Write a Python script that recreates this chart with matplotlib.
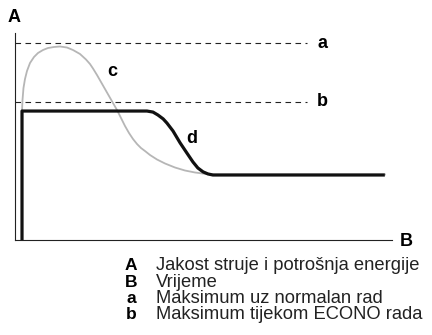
import matplotlib
matplotlib.use("Agg")
import matplotlib.pyplot as plt

plt.rcParams['font.family'] = ['Liberation Sans', 'DejaVu Sans']

# values (time and current in % of axis length)
grey_t = [1.86, 1.99, 2.25, 2.65, 3.18, 3.98, 5.04, 6.10, 7.43, 8.75, 10.34, 11.94,
          13.79, 15.38, 17.24, 18.83, 19.89, 20.69, 21.75, 22.81, 23.87, 24.93, 25.99,
          27.06, 28.12, 29.18, 30.24, 31.30, 32.36, 33.42, 34.48, 35.81, 37.67, 39.79,
          42.44, 45.09, 47.75, 50.40, 53.05, 98.14]
grey_i = [62.32, 67.63, 73.43, 77.78, 81.64, 85.51, 88.41, 90.34, 91.79, 92.75, 93.24,
          93.48, 92.99, 91.79, 89.86, 87.20, 85.02, 82.85, 79.71, 76.33, 72.95, 69.57,
          66.18, 62.80, 58.94, 55.07, 51.69, 48.79, 46.38, 44.44, 42.99, 41.06, 38.89,
          36.96, 35.02, 33.57, 32.61, 31.98, 31.64, 31.64]

econo_t = [1.86, 1.86, 35.0, 36.6, 37.9, 39.3, 40.3, 41.9, 43.8, 45.6, 47.2, 48.5, 49.9,
           51.2, 52.5, 55.2, 98.1]
econo_i = [0, 62.3, 62.3, 61.8, 60.4, 58.5, 56.5, 52.7, 46.9, 42.0, 37.7, 34.8, 32.9,
           31.9, 31.4, 31.4, 31.4]

max_normal = 95.0
max_econo = 66.7
limit_end = 77.5

legend_keys = ['A', 'B', 'a', 'b']
legend_text = ['Jakost struje i potrošnja energije', 'Vrijeme',
               'Maksimum uz normalan rad', 'Maksimum tijekom ECONO rada']

W, H = 432, 335
fig = plt.figure(figsize=(W / 100, H / 100), dpi=100)
ax = fig.add_axes([15 / W, (H - 240) / H, (392 - 15) / W, (240 - 33) / H])
ax.set_xlim(0, 100)
ax.set_ylim(0, 100)
for s in ['top', 'right']:
    ax.spines[s].set_visible(False)
for s in ['left', 'bottom']:
    ax.spines[s].set_linewidth(0.8)
    ax.spines[s].set_color('#222222')
ax.set_xticks([])
ax.set_yticks([])

ax.hlines([max_normal, max_econo], 0, limit_end, colors='#222222', linewidth=0.8,
          linestyles=(0, (5, 4)))
ax.plot(grey_t, grey_i, color='#b6b6b6', linewidth=1.3, solid_joinstyle='round')
ax.plot(econo_t, econo_i, color='#111111', linewidth=2.3, solid_joinstyle='round',
        solid_capstyle='butt')

bold = dict(fontsize=13, fontweight='bold', va='center', ha='center')
ax.text(81.5, max_normal, 'a', **bold)
ax.text(81.5, max_econo, 'b', **bold)
ax.text(25.7, 81.5, 'c', **bold)
ax.text(47.0, 49.0, 'd', **bold)

fig.text(14 / W, 1 - 17 / H, 'A', **bold)
fig.text(406 / W, 1 - 241 / H, 'B', **bold)

ys = [270, 287, 303, 319]
for k, txt, y in zip(legend_keys, legend_text, ys):
    fig.text(131 / W, 1 - y / H, k, fontsize=12.5, fontweight='bold', ha='center',
             va='baseline')
    fig.text(156 / W, 1 - y / H, txt, fontsize=13.2, ha='left', va='baseline',
             color='#222222')

fig.savefig('out.png', dpi=100)
